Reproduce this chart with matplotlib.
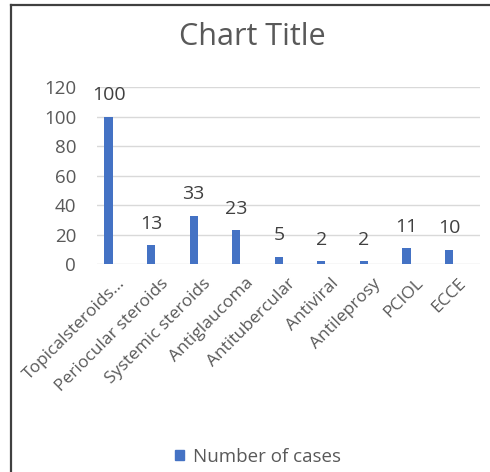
import matplotlib.pyplot as plt
from matplotlib.lines import Line2D
from matplotlib.patches import Patch
from matplotlib.transforms import ScaledTranslation

plt.rcParams['font.family'] = ['Open Sans', 'DejaVu Sans']

# drug / procedure groups and number of cases
groups = ['Topicalsteroids...', 'Periocular steroids', 'Systemic steroids',
          'Antiglaucoma', 'Antitubercular', 'Antiviral', 'Antileprosy',
          'PCIOL', 'ECCE']
cases = [100, 13, 33, 23, 5, 2, 2, 11, 10]
yticks = [0, 20, 40, 60, 80, 100, 120]

blue = '#4472c4'
grey = '#595959'

fig = plt.figure(figsize=(4.9, 4.72), dpi=100)
ax = fig.add_axes([0.198, 0.44, 0.782, 0.375])

x = range(len(groups))
bars = ax.bar(x, cases, width=0.19, color=blue, zorder=3)
for b, v in zip(bars, cases):
    ax.annotate(str(v), (b.get_x() + b.get_width() / 2, v),
                xytext=(0, 9), textcoords='offset points', ha='center',
                va='bottom', fontsize=14, color='#404040')

ax.set_ylim(0, 120)
ax.set_xlim(-0.27, len(groups) - 0.27)
ax.set_yticks(yticks)
ax.set_xticks(list(x))
ax.set_xticklabels(groups, rotation=45, ha='right', rotation_mode='anchor')
ax.tick_params(axis='both', length=0, colors=grey)
ax.tick_params(axis='y', pad=15, labelsize=13.5)
ax.tick_params(axis='x', pad=8, labelsize=12.5)
# nudge the slanted labels a bit to the right of their bars
shift = ScaledTranslation(9 / 100, 0, fig.dpi_scale_trans)
for lbl in ax.get_xticklabels():
    lbl.set_transform(lbl.get_transform() + shift)
ax.grid(axis='y', color='#d9d9d9', linewidth=1, zorder=0)
for s in ax.spines.values():
    s.set_visible(False)

fig.text(0.515, 0.922, 'Chart Title', ha='center', va='center',
         fontsize=22, color=grey)

leg = fig.legend(handles=[Patch(color=blue, label='Number of cases')],
                 loc='center', bbox_to_anchor=(0.527, 0.032), frameon=False,
                 fontsize=13.5, handlelength=0.45, handleheight=0.45,
                 handletextpad=0.5)
for t in leg.get_texts():
    t.set_color(grey)

# outer frame: only top and left edges
fig.add_artist(Line2D([0.023, 0.023], [0, 0.99], transform=fig.transFigure,
                      color='#404040', linewidth=1.6))
fig.add_artist(Line2D([0.023, 1.0], [0.99, 0.99], transform=fig.transFigure,
                      color='#404040', linewidth=1.6))

fig.savefig('out.png', dpi=100, facecolor='white')
